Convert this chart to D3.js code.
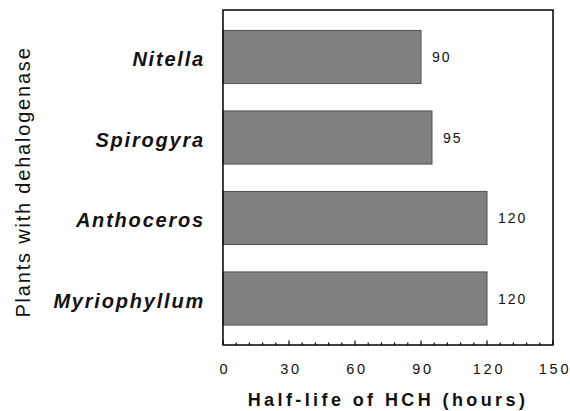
<!DOCTYPE html>
<html>
<head>
<meta charset="utf-8">
<script src="https://cdn.jsdelivr.net/npm/d3@7"></script>
<style>
  html, body { margin: 0; padding: 0; background: #fff; }
  svg { display: block; font-family: "Liberation Sans", Arial, sans-serif; }
</style>
</head>
<body>
<svg id="chart" width="570" height="411"></svg>
<script>
// Half-life of HCH for plants carrying dehalogenase
const plants = ["Nitella", "Spirogyra", "Anthoceros", "Myriophyllum"];
const halfLife = [90, 95, 120, 120];
const majorTicks = [0, 30, 60, 90, 120, 150];

const margin = { top: 10, left: 223, right: 17, bottom: 66 };
const W = 570, H = 411;
const innerW = W - margin.left - margin.right;
const innerH = H - margin.top - margin.bottom;

const svg = d3.select("#chart");
const g = svg.append("g").attr("transform", `translate(${margin.left},${margin.top})`);

const x = d3.scaleLinear().domain([0, 150]).range([0, innerW]);
const y = d3.scaleBand().domain(plants).range([6.75, 328.75]).paddingInner(0.34).paddingOuter(0.17);

// bars
g.selectAll("rect.bar")
  .data(plants)
  .join("rect")
  .attr("class", "bar")
  .attr("x", x(0))
  .attr("y", d => y(d))
  .attr("width", (d, i) => x(halfLife[i]) - x(0))
  .attr("height", y.bandwidth())
  .attr("fill", "#808080")
  .attr("stroke", "#505050")
  .attr("stroke-width", 1);

// value labels
g.selectAll("text.val")
  .data(plants)
  .join("text")
  .attr("class", "val")
  .attr("x", (d, i) => x(halfLife[i]) + 11)
  .attr("y", d => y(d) + y.bandwidth() / 2 + 5)
  .attr("font-size", 14)
  .attr("letter-spacing", 2)
  .attr("fill", "#111")
  .text((d, i) => halfLife[i]);

// frame
g.append("rect")
  .attr("x", 0).attr("y", 0)
  .attr("width", innerW).attr("height", innerH)
  .attr("fill", "none")
  .attr("stroke", "#000")
  .attr("stroke-width", 1.5);

// bottom axis: inward ticks, minor every 6 hours
const minorTicks = d3.range(0, 151, 6).filter(v => v % 30 !== 0);
const axis = g.append("g").attr("transform", `translate(0,${innerH})`);
axis.selectAll("line.minor")
  .data(minorTicks)
  .join("line")
  .attr("class", "minor")
  .attr("x1", d => x(d)).attr("x2", d => x(d))
  .attr("y1", 0).attr("y2", -2.5)
  .attr("stroke", "#000").attr("stroke-width", 1.2);
axis.selectAll("line.major")
  .data(majorTicks)
  .join("line")
  .attr("class", "major")
  .attr("x1", d => x(d)).attr("x2", d => x(d))
  .attr("y1", 0).attr("y2", -4.5)
  .attr("stroke", "#000").attr("stroke-width", 1.2);
axis.selectAll("text.tick")
  .data(majorTicks)
  .join("text")
  .attr("class", "tick")
  .attr("x", d => x(d) + 2)
  .attr("y", 29)
  .attr("text-anchor", "middle")
  .attr("font-size", 14.5)
  .attr("letter-spacing", 2.8)
  .attr("fill", "#111")
  .text(d => d);

// category labels
g.selectAll("text.cat")
  .data(plants)
  .join("text")
  .attr("class", "cat")
  .attr("x", -18)
  .attr("y", d => y(d) + y.bandwidth() / 2 + 9)
  .attr("text-anchor", "end")
  .attr("font-size", 20)
  .attr("font-weight", "bold")
  .attr("font-style", "italic")
  .attr("letter-spacing", 1.8)
  .attr("fill", "#111")
  .text(d => d);

// axis titles
svg.append("text")
  .attr("x", 388)
  .attr("y", 406)
  .attr("text-anchor", "middle")
  .attr("font-size", 18)
  .attr("font-weight", "bold")
  .attr("letter-spacing", 3.4)
  .attr("fill", "#111")
  .text("Half-life of HCH (hours)");

svg.append("text")
  .attr("transform", "translate(30,182) rotate(-90)")
  .attr("text-anchor", "middle")
  .attr("font-size", 20)
  .attr("letter-spacing", 1.8)
  .attr("fill", "#111")
  .text("Plants with dehalogenase");
</script>
</body>
</html>
